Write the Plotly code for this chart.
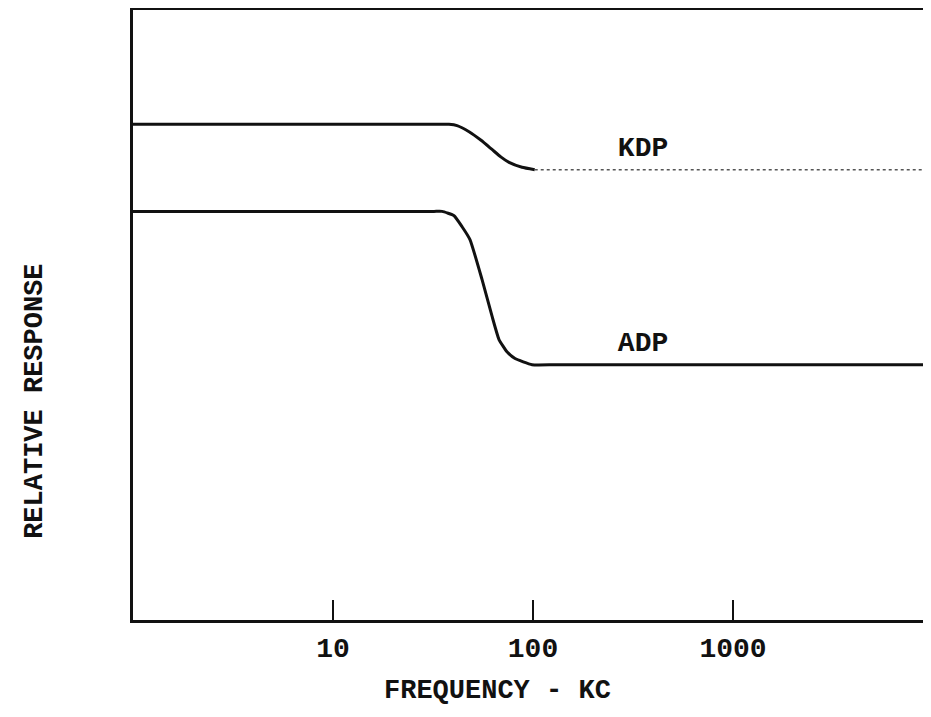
import plotly.graph_objects as go

# Frequency (kc) and relative response values
kdp_freq = [1, 10, 30, 38.0, 41.7, 47.9, 55.0, 62.4, 69.0, 75.9, 88.1, 102]
kdp_resp = [81.1, 81.1, 81.1, 81.1, 80.9, 79.9, 78.5, 77.0, 75.8, 74.9, 74.1, 73.7]
kdp_tail_freq = [102, 10000]
kdp_tail_resp = [73.7, 73.7]

adp_freq = [1, 10, 32, 35.1, 40.3, 44.2, 48.4, 55.6, 62.4, 67.6, 74.1, 81.3, 98.9, 130, 1000, 10000]
adp_resp = [66.9, 66.9, 66.9, 66.9, 66.2, 64.4, 62.3, 55.8, 49.8, 46.0, 44.0, 42.9, 41.9, 41.9, 41.9, 41.9]

tick_vals = [10, 100, 1000]
tick_text = ["10", "100", "1000"]

label_names = ["KDP", "ADP"]
label_freq = [355, 355]
label_resp = [77.0, 45.3]

x_title = "FREQUENCY - KC"
y_title = "RELATIVE RESPONSE"

FONT = "Liberation Mono, Courier New, monospace"
INK = "#111111"

fig = go.Figure()
fig.add_trace(go.Scatter(x=kdp_freq, y=kdp_resp, mode="lines",
                         line=dict(color=INK, width=3, shape="spline", smoothing=0.45),
                         showlegend=False, hoverinfo="skip"))
fig.add_trace(go.Scatter(x=kdp_tail_freq, y=kdp_tail_resp, mode="lines",
                         line=dict(color="#555555", width=1.5, dash="dot"),
                         showlegend=False, hoverinfo="skip"))
fig.add_trace(go.Scatter(x=adp_freq, y=adp_resp, mode="lines",
                         line=dict(color=INK, width=3, shape="spline", smoothing=0.45),
                         showlegend=False, hoverinfo="skip"))
fig.add_trace(go.Scatter(x=label_freq, y=label_resp, mode="text", text=label_names,
                         textfont=dict(family=FONT, size=28, color=INK, weight="bold"),
                         textposition="middle center",
                         showlegend=False, hoverinfo="skip"))

fig.add_annotation(text="<b>" + y_title + "</b>", textangle=-90,
                   xref="paper", yref="paper", x=-0.125, y=0.358,
                   xanchor="center", yanchor="middle", showarrow=False,
                   font=dict(family=FONT, size=27, color=INK))
fig.add_annotation(text="<b>" + x_title + "</b>",
                   xref="paper", yref="paper", x=0.461, y=-0.117,
                   xanchor="center", yanchor="middle", showarrow=False,
                   font=dict(family=FONT, size=27, color=INK))

fig.update_layout(
    width=915, height=701,
    margin=dict(l=125, r=0, t=2, b=89, autoexpand=False),
    paper_bgcolor="white", plot_bgcolor="white",
    font=dict(family=FONT, color=INK),
    xaxis=dict(type="log", range=[0, 3.95], showgrid=False, zeroline=False,
               automargin=False,
               showline=True, linecolor=INK, linewidth=3, mirror=True,
               tickmode="array", tickvals=tick_vals, ticktext=tick_text,
               ticks="inside", ticklen=20, tickwidth=2, tickcolor=INK,
               ticklabelstandoff=0,
               tickfont=dict(family=FONT, size=28, color=INK, weight="bold")),
    yaxis=dict(range=[0.25, 99.75], showgrid=False, zeroline=False,
               automargin=False,
               showline=True, linecolor=INK, linewidth=3,
               showticklabels=False, ticks=""),
)

fig.write_html("out.html")
